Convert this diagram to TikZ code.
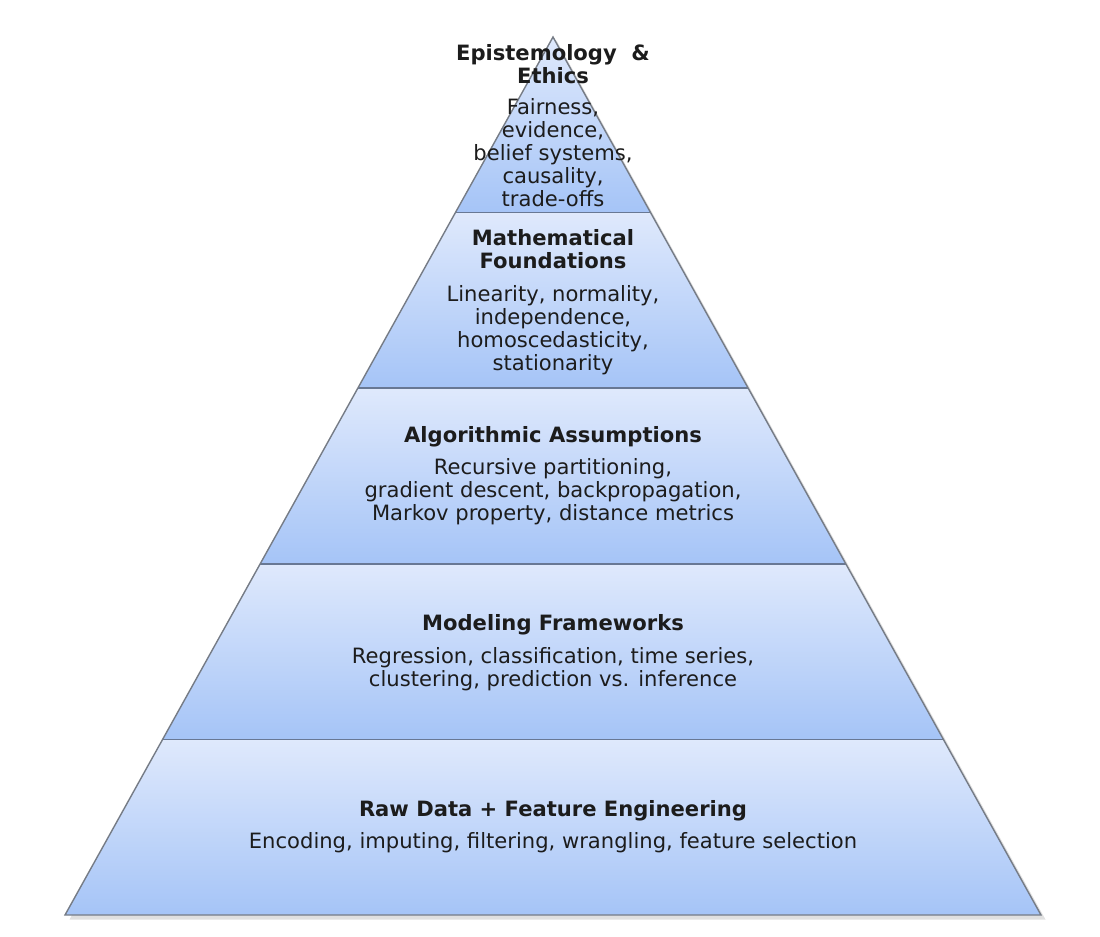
\documentclass[tikz,border=0pt]{standalone}
\usepackage{fontspec}
\usetikzlibrary{calc}
\setmainfont{DejaVu Sans}

\definecolor{bandtop}{RGB}{223,233,252}
\definecolor{bandbot}{RGB}{165,196,247}
\definecolor{edgegray}{RGB}{118,124,134}
\definecolor{sepline}{RGB}{104,120,148}
\definecolor{txt}{RGB}{28,28,28}

\tikzset{
  band/.style={top color=bandtop, bottom color=bandbot, draw=none},
  layertitle/.style={align=center, inner sep=0pt, text=txt, font=\fontsize{12}{13.2}\selectfont\bfseries},
  layerbody/.style={align=center, inner sep=0pt, text=txt, font=\fontsize{12}{13}\selectfont}
}

\begin{document}
\begin{tikzpicture}
    \useasboundingbox (0,0) rectangle (22,-18.72);

    % Corners of the pyramid
    \coordinate (apex) at (11.06,-0.74);
    \coordinate (baseL) at (1.30,-18.30);
    \coordinate (baseR) at (20.82,-18.30);

    % Shadow
    \fill[black, opacity=0.12] ($(apex)+(0.07,-0.07)$) -- ($(baseR)+(0.09,-0.09)$) -- ($(baseL)+(0.09,-0.09)$) -- cycle;

    % Bands (top to bottom)
    \foreach \k in {0,...,4} {
        \shade[band] ({11.06-\k*1.952},{-0.74-\k*3.512}) -- ({11.06+\k*1.952},{-0.74-\k*3.512})
            -- ({11.06+(\k+1)*1.952},{-0.74-(\k+1)*3.512}) -- ({11.06-(\k+1)*1.952},{-0.74-(\k+1)*3.512}) -- cycle;
    }

    % Separators between the bands
    \foreach \k in {1,...,4} {
        \draw[sepline, line width=0.9pt] ({11.06-\k*1.952},{-0.74-\k*3.512}) -- ({11.06+\k*1.952},{-0.74-\k*3.512});
    }

    % Outline
    \draw[edgegray, line width=0.8pt, line join=miter] (apex) -- (baseR) -- (baseL) -- cycle;

    % Epistemology & Ethics
    \node[layertitle] (epiT) at (11.06,-1.28) {Epistemology\ \ \&\\Ethics};
    \node[layerbody] (epiB) at (11.06,-3.05) {Fairness,\\evidence,\\belief systems,\\causality,\\trade-offs};

    % Mathematical Foundations
    \node[layertitle] (mathT) at (11.06,-4.99) {Mathematical\\Foundations};
    \node[layerbody] (mathB) at (11.06,-6.60) {Linearity, normality,\\independence,\\homoscedasticity,\\stationarity};

    % Algorithmic Assumptions
    \node[layertitle] (algoT) at (11.06,-8.74) {Algorithmic Assumptions};
    \node[layerbody] (algoB) at (11.06,-9.83) {Recursive partitioning,\\gradient descent, backpropagation,\\Markov property, distance metrics};

    % Modeling Frameworks
    \node[layertitle] (modT) at (11.06,-12.50) {Modeling Frameworks};
    \node[layerbody] (modB) at (11.06,-13.38) {Regression, classification, time series,\\clustering, prediction vs. inference};

    % Raw Data + Feature Engineering
    \node[layertitle] (rawT) at (11.06,-16.22) {Raw Data + Feature Engineering};
    \node[layerbody] (rawB) at (11.06,-16.86) {Encoding, imputing, filtering, wrangling, feature selection};
\end{tikzpicture}
\end{document}
